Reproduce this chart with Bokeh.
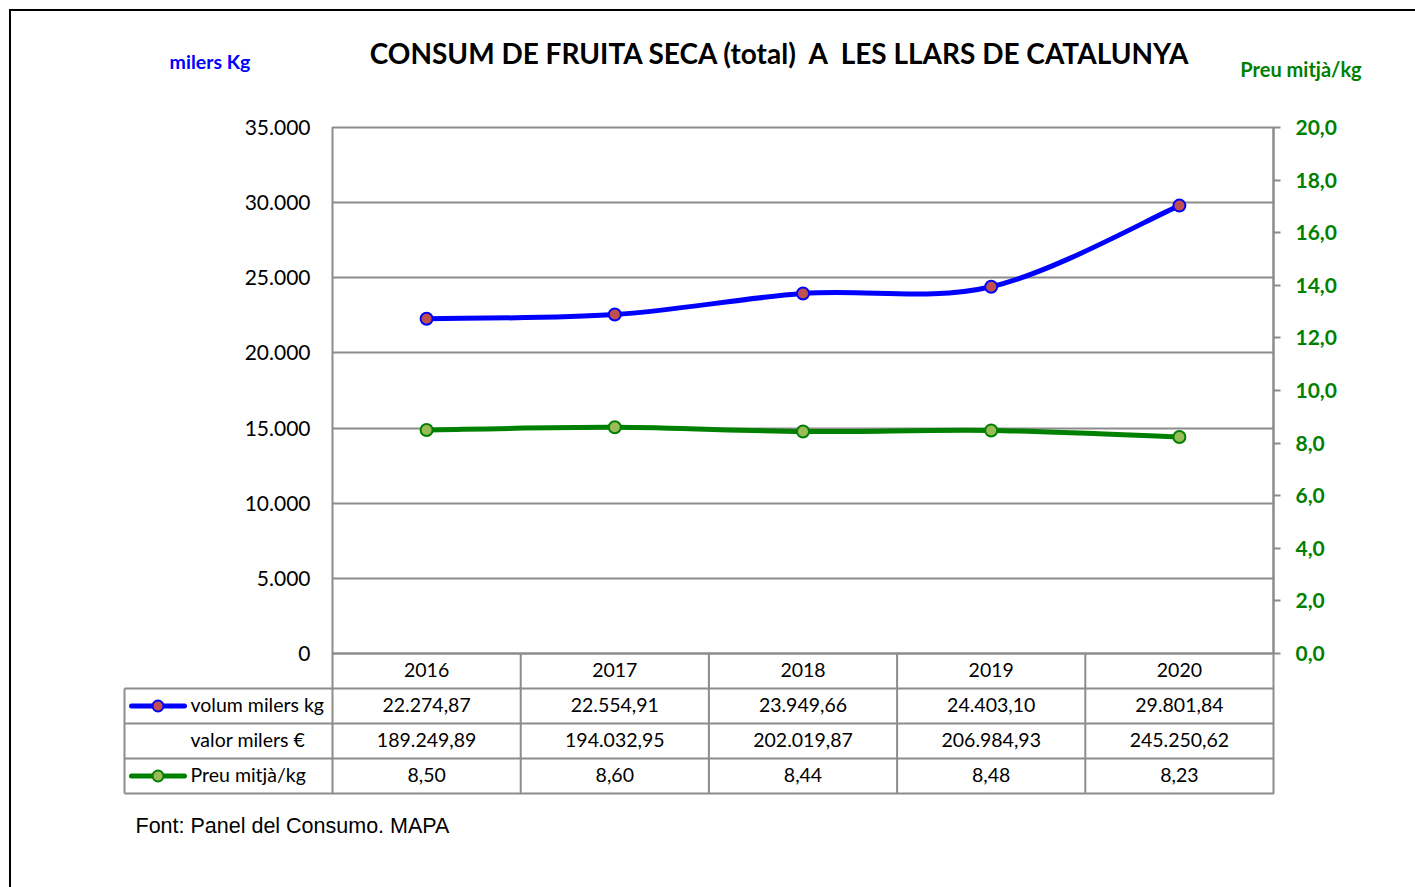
from bokeh.plotting import figure
from bokeh.models import Range1d, LinearAxis, FixedTicker
from bokeh.layouts import column
from bokeh.embed import file_html
from bokeh.resources import INLINE
from bokeh.core.properties import value

# ---------------- data ----------------
years = ["2016", "2017", "2018", "2019", "2020"]
volum = [22274.87, 22554.91, 23949.66, 24403.10, 29801.84]
valor = [189249.89, 194032.95, 202019.87, 206984.93, 245250.62]
preu = [8.50, 8.60, 8.44, 8.48, 8.23]
volum_labels = ["22.274,87", "22.554,91", "23.949,66", "24.403,10", "29.801,84"]
valor_labels = ["189.249,89", "194.032,95", "202.019,87", "206.984,93", "245.250,62"]
preu_labels = ["8,50", "8,60", "8,44", "8,48", "8,23"]
row_labels = ["volum milers kg", "valor milers \u20ac", "Preu mitj\u00e0/kg"]
left_ticks = [0, 5000, 10000, 15000, 20000, 25000, 30000, 35000]
left_tick_labels = ["0", "5.000", "10.000", "15.000", "20.000", "25.000", "30.000", "35.000"]
right_ticks = [0, 2, 4, 6, 8, 10, 12, 14, 16, 18, 20]
right_tick_labels = ["0,0", "2,0", "4,0", "6,0", "8,0", "10,0", "12,0", "14,0", "16,0", "18,0", "20,0"]
title_text = "CONSUM DE FRUITA SECA (total)  A  LES LLARS DE CATALUNYA"
left_title = "milers Kg"
right_title = "Preu mitj\u00e0/kg"
source_text = "Font: Panel del Consumo. MAPA"

# ---------------- layout constants (page pixels) ----------------
MARG, BORD = 9, 2
OX = OY = MARG + BORD
W, H = 1415 - OX, 887 - OY
FL, FR, FT, FB = 332, 1273, 127, 653   # chart area
TB = 793                               # bottom of data table
COLW = (FR - FL) / 5.0
ROWH = 35.0
LEFT_MAX, RIGHT_MAX = 35000.0, 20.0
GRAY = "#8c8c8c"
BLUE = "#0000FF"
GREEN = "#008000"
FONT = "Lato"


def ux(px):
    return (px - FL) / COLW


def ty(py):
    return (TB - py) / ROWH


xs = [i + 0.5 for i in range(len(years))]


def bez(x, y):
    n = len(x)
    out = dict(x0=[], y0=[], x1=[], y1=[], cx0=[], cy0=[], cx1=[], cy1=[])
    for i in range(n - 1):
        a = i - 1 if i > 0 else i
        d = i + 2 if i + 2 < n else i + 1
        out["x0"].append(x[i]); out["y0"].append(y[i])
        out["x1"].append(x[i + 1]); out["y1"].append(y[i + 1])
        out["cx0"].append(x[i] + (x[i + 1] - x[a]) / 6.0)
        out["cy0"].append(y[i] + (y[i + 1] - y[a]) / 6.0)
        out["cx1"].append(x[i + 1] - (x[d] - x[i]) / 6.0)
        out["cy1"].append(y[i + 1] - (y[d] - y[i]) / 6.0)
    return out


chart_px = FB - FT
table_px = TB - FB
p = figure(width=W, height=H, x_range=Range1d(0, 5),
           y_range=Range1d(-LEFT_MAX * table_px / chart_px, LEFT_MAX),
           output_backend="svg", toolbar_location=None, x_axis_location=None,
           title=None, min_border_left=FL - OX, min_border_right=W - (FR - OX),
           min_border_top=FT - OY, min_border_bottom=H - (TB - OY))
p.background_fill_color = "white"
p.border_fill_color = "white"
p.outline_line_color = GRAY
p.outline_line_width = 2
p.extra_y_ranges = {
    "preu": Range1d(-RIGHT_MAX * table_px / chart_px, RIGHT_MAX),
    "table": Range1d(0, (TB - FT) / ROWH),
}

yl = p.yaxis[0]
yl.bounds = (0, LEFT_MAX)
yl.ticker = FixedTicker(ticks=left_ticks)
yl.major_label_overrides = dict(zip(left_ticks, left_tick_labels))
yl.axis_line_color = None
yl.major_tick_line_color = None
yl.minor_tick_line_color = None
yl.major_tick_out = 0
yl.major_label_standoff = 22
yl.major_label_text_font = FONT
yl.major_label_text_font_size = "21px"
yl.major_label_text_color = "black"

p.ygrid.ticker = FixedTicker(ticks=left_ticks)
p.ygrid.bounds = (0, LEFT_MAX)
p.ygrid.grid_line_color = GRAY
p.ygrid.grid_line_width = 2
p.xgrid.visible = False

yr = LinearAxis(y_range_name="preu")
yr.bounds = (0, RIGHT_MAX)
yr.ticker = FixedTicker(ticks=right_ticks)
yr.major_label_overrides = dict(zip(right_ticks, right_tick_labels))
yr.axis_line_color = GRAY
yr.axis_line_width = 2
yr.major_tick_line_color = GRAY
yr.major_tick_line_width = 2
yr.major_tick_out = 7
yr.major_tick_in = 0
yr.minor_tick_line_color = None
yr.major_label_standoff = 15
yr.major_label_text_font = FONT
yr.major_label_text_font_style = "bold"
yr.major_label_text_font_size = "21px"
yr.major_label_text_color = GREEN
p.add_layout(yr, "right")

# ---------------- series ----------------
bv = bez(xs, volum)
p.bezier(x0=bv["x0"], y0=bv["y0"], x1=bv["x1"], y1=bv["y1"], cx0=bv["cx0"], cy0=bv["cy0"],
         cx1=bv["cx1"], cy1=bv["cy1"], line_color=BLUE, line_width=5, line_cap="round")
p.scatter(xs, volum, size=12, fill_color="#C0504D", line_color=BLUE, line_width=2)

bp = bez(xs, preu)
p.bezier(x0=bp["x0"], y0=bp["y0"], x1=bp["x1"], y1=bp["y1"], cx0=bp["cx0"], cy0=bp["cy0"],
         cx1=bp["cx1"], cy1=bp["cy1"], line_color=GREEN, line_width=5, line_cap="round",
         y_range_name="preu")
p.scatter(xs, preu, size=12, fill_color="#9BBB59", line_color=GREEN, line_width=2,
          y_range_name="preu")

# ---------------- titles (outside the frame) ----------------
shown_title = title_text.replace("  ", " \u00a0")
p.text(x=[ux(780)], y=[ty(52)], text=[shown_title], text_align="center", text_baseline="middle",
       text_font=value(FONT), text_font_style="bold", text_font_size="28px",
       text_color="black", y_range_name="table", level="overlay")
p.text(x=[ux(209.5)], y=[ty(61)], text=[left_title], text_align="center", text_baseline="middle",
       text_font=value(FONT), text_font_style="bold", text_font_size="19.5px",
       text_color=BLUE, y_range_name="table", level="overlay")
p.text(x=[ux(1300.5)], y=[ty(68)], text=[right_title], text_align="center", text_baseline="middle",
       text_font=value(FONT), text_font_style="bold", text_font_size="20px",
       text_color=GREEN, y_range_name="table", level="overlay")

# ---------------- data table ----------------
LC = ux(124)
p.segment(x0=[0, LC, LC, LC], y0=[4, 3, 2, 1], x1=[5, 5, 5, 5], y1=[4, 3, 2, 1],
          line_color=GRAY, line_width=2, y_range_name="table", level="overlay")
p.segment(x0=[LC], y0=[0], x1=[0], y1=[0], line_color=GRAY, line_width=2,
          y_range_name="table", level="overlay")
p.segment(x0=[1, 2, 3, 4], y0=[0] * 4, x1=[1, 2, 3, 4], y1=[4] * 4,
          line_color=GRAY, line_width=2, y_range_name="table", level="overlay")
p.segment(x0=[LC], y0=[0], x1=[LC], y1=[3], line_color=GRAY, line_width=2,
          y_range_name="table", level="overlay")

FS = "19.5px"
TXT_UP = 1.5 / ROWH
for rowy, labels in [(3.5, years), (2.5, volum_labels), (1.5, valor_labels), (0.5, preu_labels)]:
    p.text(x=xs, y=[rowy + TXT_UP] * 5, text=labels, text_align="center", text_baseline="middle",
           text_font=value(FONT), text_font_size=FS, text_color="black",
           y_range_name="table")
p.text(x=[ux(190)] * 3, y=[2.5 + TXT_UP, 1.5 + TXT_UP, 0.5 + TXT_UP], text=row_labels,
       text_align="left", text_baseline="middle", text_font=value(FONT), text_font_size=FS,
       text_color="black", y_range_name="table", level="overlay")

# legend keys
p.segment(x0=[ux(131)], y0=[2.5], x1=[ux(184)], y1=[2.5], line_color=BLUE, line_width=5,
          line_cap="round", y_range_name="table", level="overlay")
p.ellipse(x=[ux(157.5)], y=[2.5], width=11, height=11, width_units="screen",
          height_units="screen", fill_color="#C0504D", line_color=BLUE, line_width=2,
          y_range_name="table", level="overlay")
p.segment(x0=[ux(131)], y0=[0.5], x1=[ux(184)], y1=[0.5], line_color=GREEN, line_width=5,
          line_cap="round", y_range_name="table", level="overlay")
p.ellipse(x=[ux(157.5)], y=[0.5], width=11, height=11, width_units="screen",
          height_units="screen", fill_color="#9BBB59", line_color=GREEN, line_width=2,
          y_range_name="table", level="overlay")

# source note
p.text(x=[ux(135)], y=[ty(825)], text=[source_text], text_align="left",
       text_baseline="middle", text_font=value("Liberation Sans"), text_font_size="21.5px",
       text_color="black", y_range_name="table", level="overlay")

layout = column(p, styles={"margin-left": "%dpx" % MARG, "margin-top": "%dpx" % MARG,
                           "border-left": "%dpx solid black" % BORD,
                           "border-top": "%dpx solid black" % BORD})

open("out.html", "w").write(file_html(layout, INLINE))
